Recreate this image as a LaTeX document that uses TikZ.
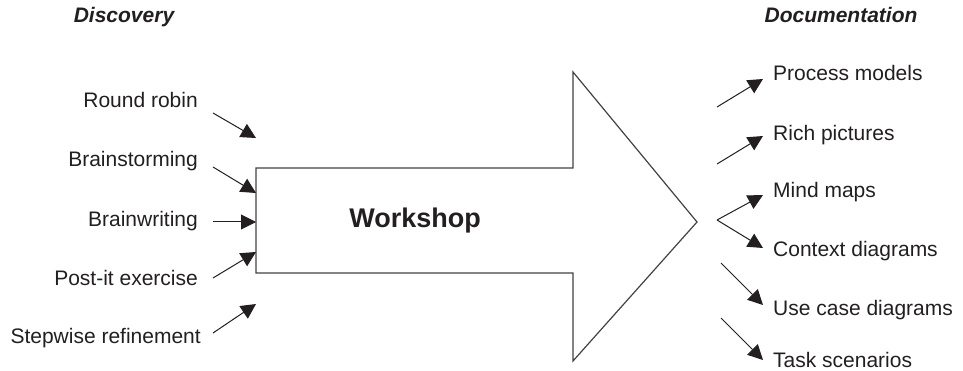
\documentclass[tikz,border=0pt]{standalone}
\usepackage{fontspec}
\setmainfont{Liberation Sans}
\usetikzlibrary{arrows.meta}
\definecolor{ink}{HTML}{231F20}
\begin{document}
\begin{tikzpicture}[x=1pt,y=-1pt,
  lbl/.style={inner sep=0pt,font=\fontsize{21}{24}\selectfont,text=ink},
  lleft/.style={lbl,anchor=base east},
  lright/.style={lbl,anchor=base west},
  ttl/.style={inner sep=0pt,anchor=base,font=\fontsize{21}{24}\selectfont\bfseries\itshape,text=ink},
  conn/.style={line width=1pt,draw=ink,-{Triangle[length=15pt,width=15pt]}},
  bigarrow/.style={line width=1.2pt,draw=ink!85,line join=miter}]
\useasboundingbox (0,0) rectangle (963,371);
% titles
\node[ttl] (tdisc) at (124,23) {Discovery};
\node[ttl] (tdoc) at (841,23) {Documentation};
% big arrow
\coordinate (p1) at (256,168);
\coordinate (p2) at (573,168);
\coordinate (p3) at (573,72);
\coordinate (p4) at (697,222);
\coordinate (p5) at (573,361);
\coordinate (p6) at (573,273);
\coordinate (p7) at (256,273);
\draw[bigarrow] (p1) -- (p2) -- (p3) -- (p4) -- (p5) -- (p6) -- (p7) -- cycle;
\node[inner sep=0pt,font=\fontsize{27}{30}\selectfont\bfseries,text=ink] (ws) at (415,221) {Workshop};
% left labels
\node[lleft] (rr) at (198,108) {Round robin};
\node[lleft] (bs) at (198,167) {Brainstorming};
\node[lleft] (bw) at (198,227) {Brainwriting};
\node[lleft] (pi) at (198,285) {Post-it exercise};
\node[lleft] (sr) at (201,343) {Stepwise refinement};
% left connectors
\coordinate (rrs) at (213,113); \coordinate (rrt) at (256,138);
\coordinate (bss) at (213,167); \coordinate (bst) at (256,193);
\coordinate (bws) at (213,222); \coordinate (bwt) at (256,222);
\coordinate (pis) at (213,278); \coordinate (pit) at (256,252);
\coordinate (srs) at (213,333); \coordinate (srt) at (256,304);
\draw[conn] (rrs) -- (rrt);
\draw[conn] (bss) -- (bst);
\draw[conn] (bws) -- (bwt);
\draw[conn] (pis) -- (pit);
\draw[conn] (srs) -- (srt);
% right labels
\node[lright] (pm) at (773,81) {Process models};
\node[lright] (rp) at (773,141) {Rich pictures};
\node[lright] (mm) at (773,198) {Mind maps};
\node[lright] (cd) at (773,257) {Context diagrams};
\node[lright] (uc) at (773,315) {Use case diagrams};
\node[lright] (tsk) at (773,367) {Task scenarios};
% right connectors
\coordinate (pms) at (717,107); \coordinate (pmt) at (763,79);
\coordinate (rps) at (717,164); \coordinate (rpt) at (763,136);
\coordinate (mms) at (717,220); \coordinate (mmt) at (763,195);
\coordinate (cdt) at (763,248);
\coordinate (ucs) at (721,263); \coordinate (uct) at (763,305);
\coordinate (tss) at (721,318); \coordinate (tst) at (763,360);
\draw[conn] (pms) -- (pmt);
\draw[conn] (rps) -- (rpt);
\draw[conn] (mms) -- (mmt);
\draw[conn] (mms) -- (cdt);
\draw[conn] (ucs) -- (uct);
\draw[conn] (tss) -- (tst);
\end{tikzpicture}
\end{document}
